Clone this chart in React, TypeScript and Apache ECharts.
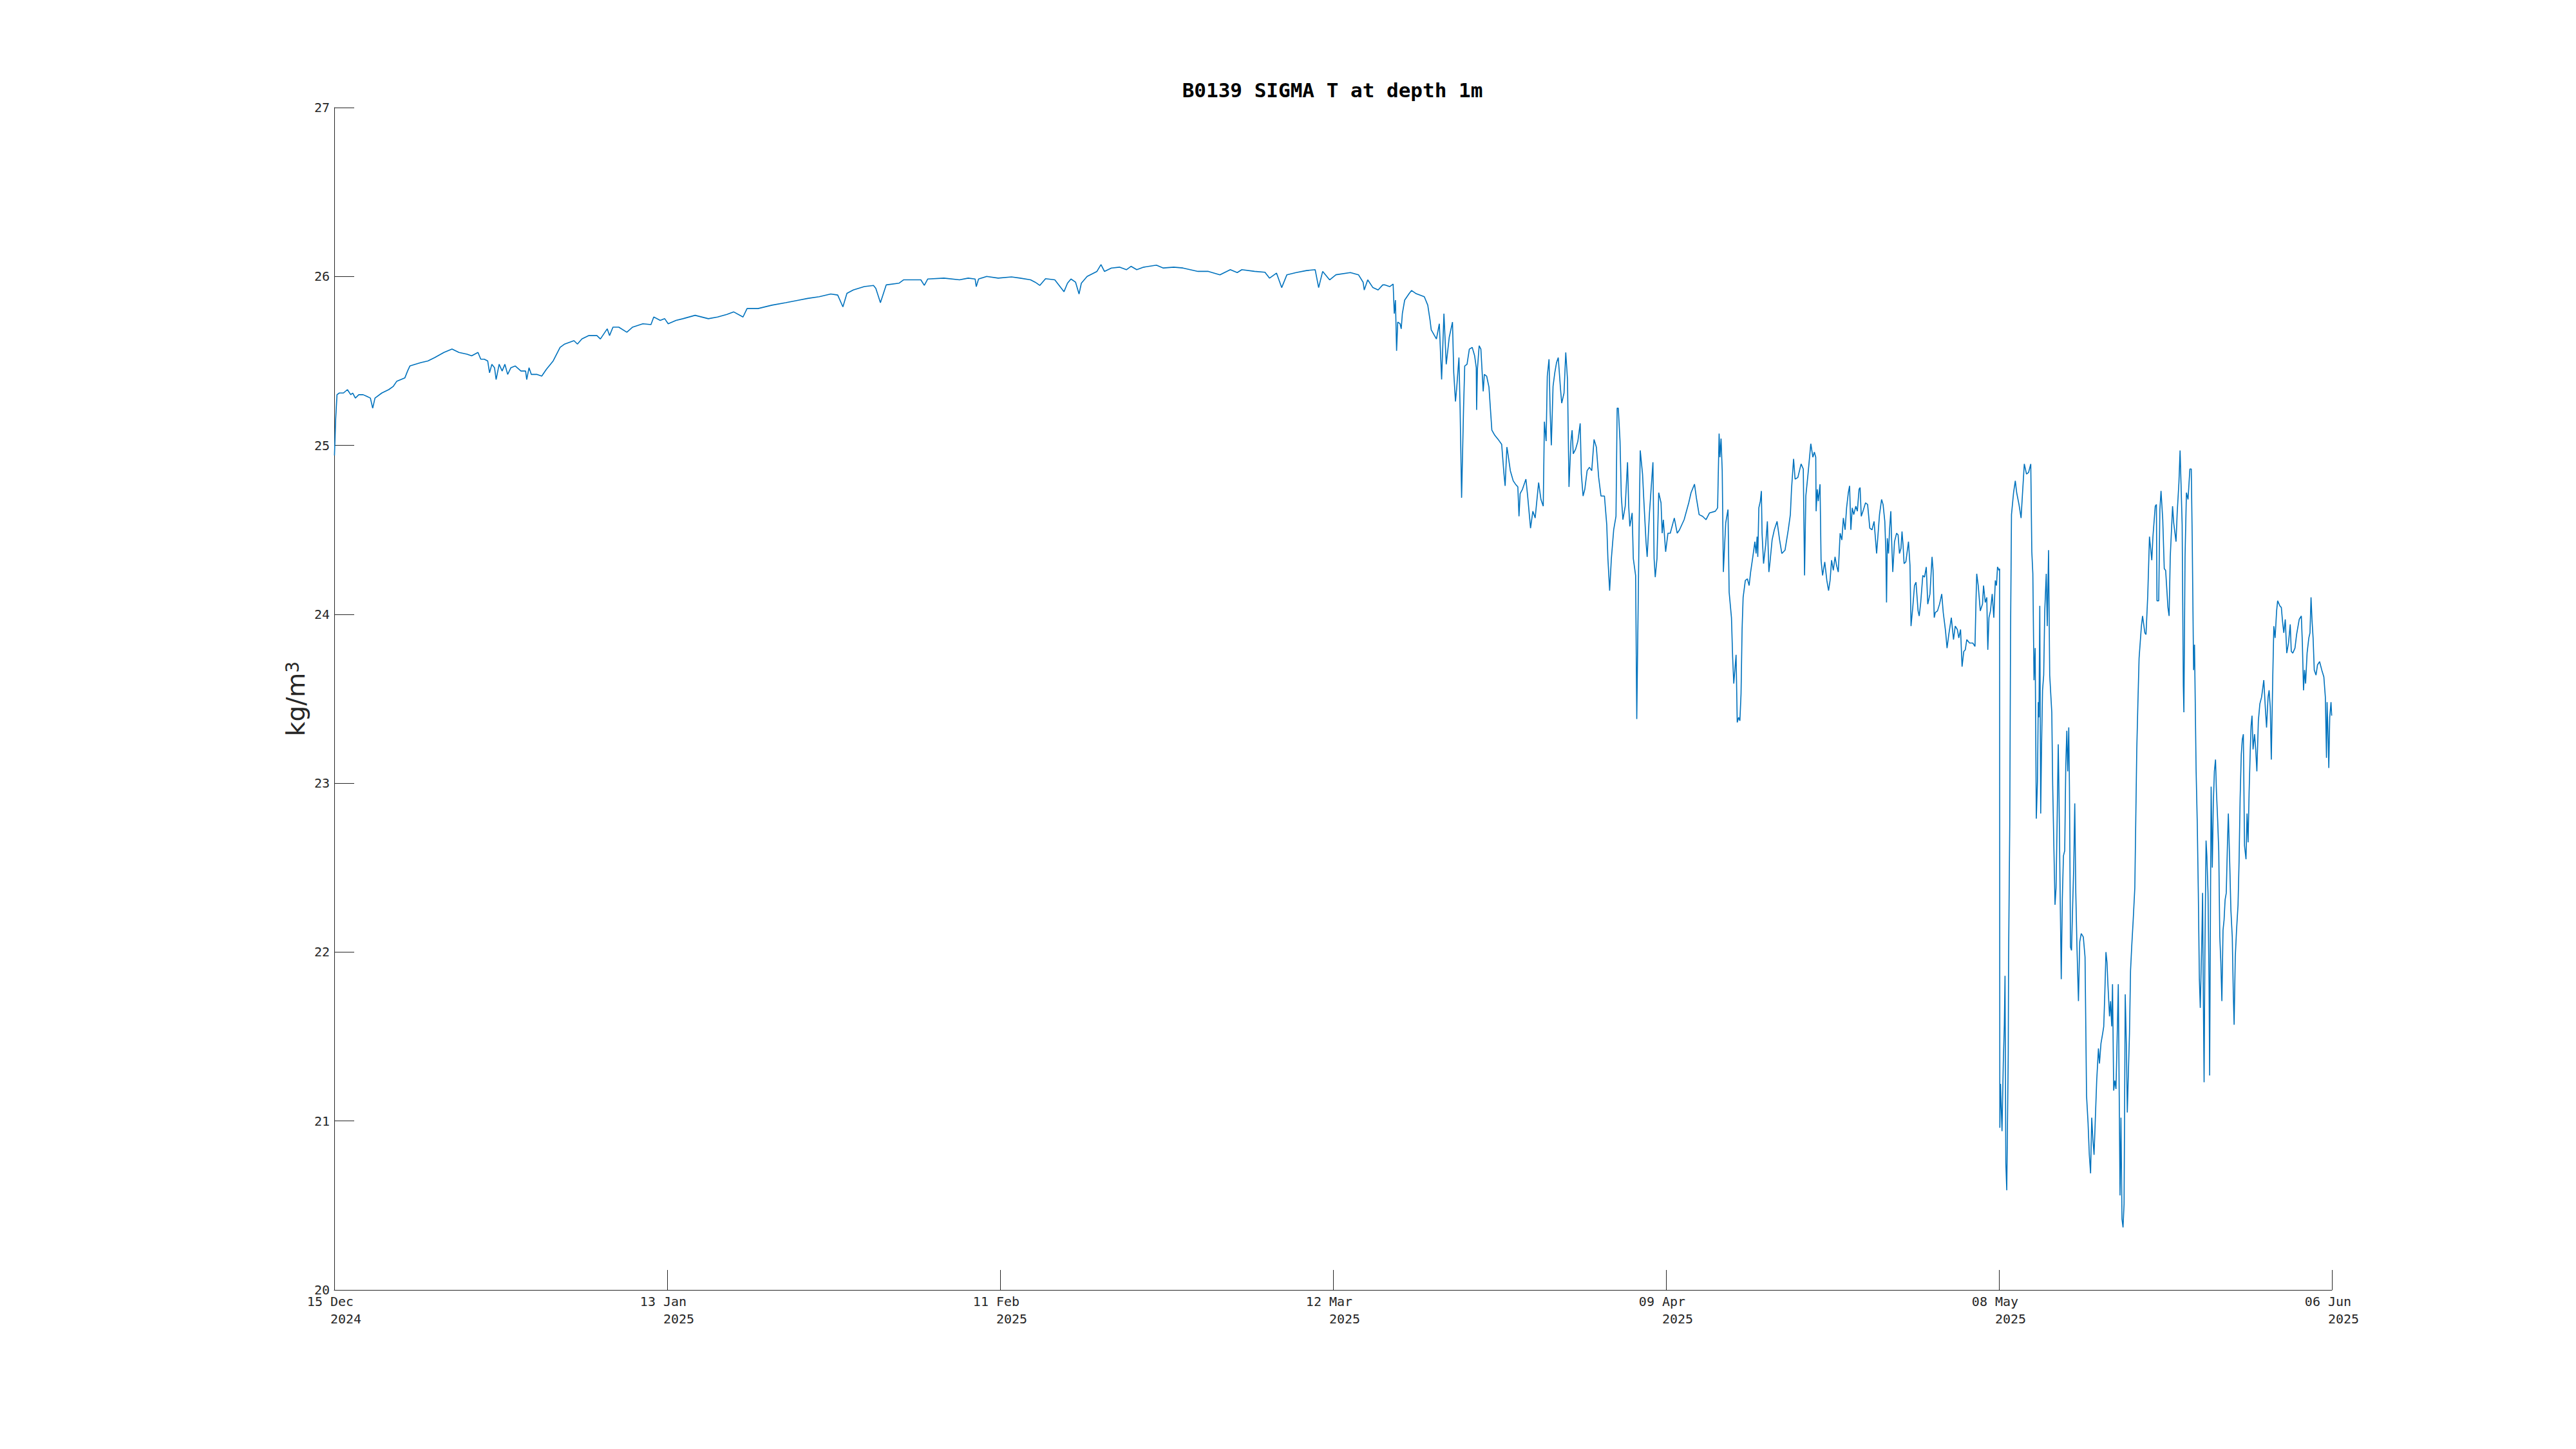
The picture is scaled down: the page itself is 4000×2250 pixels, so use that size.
import React, { useEffect, useRef } from "react";
import * as echarts from "echarts";

// x = days since 15 Dec 2024 00:00, y = sigma-T (kg/m^3)
const decData: [number, number][] = [
  [0.02, 24.94], [0.12, 25.15], [0.24, 25.3], [0.44, 25.31], [0.8, 25.31], [1.14, 25.33], [1.43, 25.3], [1.6, 25.31],
  [1.83, 25.28], [2.13, 25.3], [2.5, 25.3], [2.83, 25.29], [3.13, 25.28], [3.33, 25.22], [3.53, 25.28], [4.12, 25.31],
  [4.72, 25.33], [5.12, 25.35], [5.42, 25.38], [6.12, 25.4], [6.35, 25.44], [6.55, 25.47], [7.0, 25.48], [7.51, 25.49],
  [8.11, 25.5], [8.7, 25.52], [9.5, 25.55], [10.2, 25.57], [10.8, 25.55], [11.5, 25.54], [11.9, 25.53], [12.45, 25.55],
  [12.69, 25.51], [12.99, 25.51], [13.29, 25.5], [13.45, 25.43], [13.65, 25.48], [13.88, 25.46], [14.02, 25.39],
  [14.28, 25.48], [14.54, 25.44], [14.78, 25.48], [15.02, 25.42], [15.3, 25.46], [15.68, 25.47], [16.17, 25.44],
  [16.57, 25.44], [16.67, 25.39], [16.87, 25.46], [17.07, 25.42], [17.57, 25.42], [17.97, 25.41], [18.37, 25.45],
  [18.96, 25.5], [19.56, 25.58], [19.96, 25.6], [20.76, 25.62], [21.06, 25.6], [21.45, 25.63], [22.05, 25.65],
  [22.75, 25.65], [23.05, 25.63], [23.64, 25.69], [23.84, 25.65], [24.14, 25.7], [24.64, 25.7], [25.34, 25.67],
  [25.84, 25.7], [26.73, 25.72], [27.43, 25.715], [27.67, 25.76], [28.23, 25.74], [28.62, 25.75], [28.92, 25.72],
];

const janData: [number, number][] = [
  [29.6, 25.74], [30.2, 25.75], [31.25, 25.77], [32.4, 25.75], [33.2, 25.76], [34.0, 25.775], [34.6, 25.79],
  [35.4, 25.76], [35.75, 25.81], [36.7, 25.81], [37.9, 25.83], [39.1, 25.845], [40.25, 25.86], [41.0, 25.87],
  [42.0, 25.88], [43.0, 25.896], [43.6, 25.89], [44.05, 25.82], [44.4, 25.9], [44.95, 25.92], [45.9, 25.94],
  [46.7, 25.947], [46.9, 25.93], [47.3, 25.845], [47.8, 25.95], [48.9, 25.96], [49.3, 25.98], [50.8, 25.98],
  [51.1, 25.947], [51.4, 25.985], [52.8, 25.99], [54.15, 25.98], [54.9, 25.99], [55.5, 25.985], [55.6, 25.94],
  [55.8, 25.985], [56.5, 26.0], [57.5, 25.99], [58.65, 25.997], [59.4, 25.99], [60.3, 25.98],
];

const febMarData: [number, number][] = [
  [60.7, 25.966], [61.1, 25.947], [61.6, 25.987], [62.4, 25.98], [63.2, 25.91], [63.5, 25.96], [63.8, 25.985],
  [64.2, 25.966], [64.5, 25.896], [64.7, 25.96], [65.2, 26.0], [66.05, 26.03], [66.4, 26.07], [66.7, 26.03],
  [67.3, 26.05], [68.0, 26.055], [68.6, 26.04], [69.0, 26.06], [69.5, 26.04], [70.1, 26.055], [71.2, 26.067],
  [71.8, 26.05], [72.7, 26.055], [73.5, 26.05], [74.8, 26.03], [75.7, 26.03], [76.7, 26.01], [77.6, 26.04],
  [78.2, 26.023], [78.6, 26.04], [79.7, 26.03], [80.6, 26.025], [81.0, 25.99], [81.6, 26.02], [82.05, 25.934],
  [82.5, 26.01], [83.3, 26.023], [84.2, 26.035], [84.95, 26.04], [85.25, 25.934], [85.6, 26.03], [86.2, 25.98],
  [86.75, 26.01], [88.0, 26.023], [88.7, 26.01], [89.1, 25.966], [89.2, 25.92], [89.5, 25.98], [89.95, 25.934],
  [90.4, 25.92], [90.8, 25.95],
];

const marAprData: [number, number][] = [
  [91.0, 25.95], [91.4, 25.94], [91.7, 25.955], [91.8, 25.78], [91.9, 25.86], [92.0, 25.56], [92.1, 25.73],
  [92.3, 25.72], [92.4, 25.69], [92.5, 25.78], [92.7, 25.86], [93.1, 25.9], [93.3, 25.917], [93.7, 25.898],
  [94.4, 25.88], [94.7, 25.83], [94.9, 25.74], [95.0, 25.684], [95.45, 25.63], [95.7, 25.72], [95.9, 25.39],
  [96.1, 25.78], [96.3, 25.48], [96.56, 25.64], [96.84, 25.73], [96.95, 25.43], [97.1, 25.26], [97.2, 25.335],
  [97.4, 25.52], [97.5, 25.22], [97.63, 24.69], [97.8, 25.22], [97.9, 25.47], [98.1, 25.48], [98.3, 25.57],
  [98.55, 25.58], [98.76, 25.53], [98.9, 25.46], [98.93, 25.21], [99.0, 25.45], [99.15, 25.59], [99.3, 25.57],
  [99.5, 25.32], [99.6, 25.42], [99.8, 25.41], [100.0, 25.345], [100.25, 25.09], [100.5, 25.06], [100.8, 25.035],
  [101.1, 25.006], [101.3, 24.83], [101.4, 24.76], [101.55, 24.99], [101.6, 24.97], [101.85, 24.85], [102.1, 24.79],
  [102.3, 24.77], [102.5, 24.754], [102.6, 24.58], [102.7, 24.715], [102.9, 24.74], [103.2, 24.8], [103.35, 24.7],
  [103.6, 24.51], [103.8, 24.61], [104.0, 24.57], [104.3, 24.78], [104.5, 24.68], [104.7, 24.64], [104.8, 25.14],
  [104.95, 25.025], [105.05, 25.41], [105.2, 25.51], [105.3, 25.2], [105.4, 25.0], [105.55, 25.35], [105.7, 25.43],
  [105.85, 25.49], [106.0, 25.52], [106.2, 25.33], [106.3, 25.25], [106.5, 25.31], [106.65, 25.55], [106.8, 25.39],
  [106.93, 24.754], [107.1, 25.025], [107.2, 25.09], [107.3, 24.95], [107.5, 24.977], [107.7, 25.025], [107.9, 25.13],
  [108.0, 24.83], [108.15, 24.7], [108.3, 24.74], [108.5, 24.85], [108.7, 24.87], [108.9, 24.85], [109.1, 25.035],
  [109.3, 24.99], [109.5, 24.81], [109.7, 24.7], [110.0, 24.7], [110.2, 24.53], [110.3, 24.33], [110.45, 24.14],
  [110.6, 24.33], [110.8, 24.5], [111.0, 24.58], [111.1, 25.22], [111.2, 25.22], [111.35, 25.025], [111.46, 24.7],
  [111.6, 24.56], [111.8, 24.64], [112.0, 24.9], [112.1, 24.64], [112.2, 24.52], [112.4, 24.6], [112.5, 24.33],
  [112.7, 24.23], [112.8, 23.38], [113.0, 24.5], [113.1, 24.97], [113.3, 24.83], [113.4, 24.69], [113.6, 24.43],
  [113.7, 24.34], [113.9, 24.6], [114.06, 24.76], [114.2, 24.9], [114.3, 24.33], [114.4, 24.22], [114.55, 24.33],
  [114.7, 24.72], [114.9, 24.66], [115.0, 24.48], [115.1, 24.56], [115.3, 24.37], [115.5, 24.48], [115.7, 24.48],
  [116.05, 24.57], [116.3, 24.48], [116.5, 24.5], [116.9, 24.56], [117.3, 24.66], [117.5, 24.72], [117.8, 24.77],
  [117.96, 24.69], [118.2, 24.59], [118.5, 24.58], [118.8, 24.56], [119.1, 24.6], [119.6, 24.61], [119.8, 24.63],
  [119.93, 25.07], [120.0, 24.93], [120.1, 25.04], [120.2, 24.85], [120.3, 24.25], [120.5, 24.54], [120.7, 24.62],
  [120.8, 24.13], [121.0, 23.98], [121.1, 23.75], [121.2, 23.59], [121.4, 23.76], [121.5, 23.36], [121.62, 23.39],
];

const aprMayData: [number, number][] = [
  [121.73, 23.37], [121.83, 23.53], [121.92, 23.91], [122.01, 24.1], [122.2, 24.2], [122.38, 24.21], [122.53, 24.17],
  [122.66, 24.25], [122.85, 24.34], [123.03, 24.43], [123.13, 24.36], [123.22, 24.46], [123.28, 24.34], [123.37, 24.63],
  [123.5, 24.67], [123.59, 24.73], [123.65, 24.48], [123.78, 24.3], [123.96, 24.41], [124.11, 24.55], [124.24, 24.25],
  [124.34, 24.31], [124.52, 24.44], [124.71, 24.5], [124.95, 24.55], [125.17, 24.44], [125.36, 24.36], [125.64, 24.38],
  [125.92, 24.5], [126.1, 24.59], [126.2, 24.74], [126.38, 24.92], [126.51, 24.8], [126.75, 24.81], [127.03, 24.89],
  [127.22, 24.86], [127.33, 24.23], [127.44, 24.7], [127.63, 24.83], [127.87, 25.01], [128.05, 24.93], [128.18, 24.96],
  [128.3, 24.93], [128.33, 24.61], [128.43, 24.74], [128.52, 24.67], [128.67, 24.77], [128.76, 24.32], [128.89, 24.23],
  [129.08, 24.31], [129.26, 24.2], [129.41, 24.14], [129.54, 24.2], [129.67, 24.32], [129.82, 24.26], [129.97, 24.34],
  [130.1, 24.29], [130.25, 24.25], [130.41, 24.48], [130.56, 24.44], [130.69, 24.57], [130.84, 24.5], [130.97, 24.63],
  [131.12, 24.72], [131.23, 24.76], [131.34, 24.5], [131.46, 24.63], [131.59, 24.59], [131.77, 24.64], [131.9, 24.61],
  [132.05, 24.74], [132.14, 24.75], [132.24, 24.58], [132.39, 24.61], [132.61, 24.66], [132.79, 24.65], [132.98, 24.51],
  [133.17, 24.5], [133.35, 24.55], [133.57, 24.36], [133.82, 24.59], [134.0, 24.68], [134.13, 24.65], [134.28, 24.55],
  [134.37, 24.37], [134.43, 24.07], [134.5, 24.45], [134.6, 24.36], [134.69, 24.5], [134.8, 24.61], [134.88, 24.42],
  [134.97, 24.25], [135.12, 24.43], [135.3, 24.48], [135.43, 24.47], [135.55, 24.36], [135.68, 24.39], [135.77, 24.49],
  [135.86, 24.41], [135.95, 24.3], [136.1, 24.31], [136.33, 24.43], [136.46, 24.29], [136.55, 23.93], [136.7, 24.04],
  [136.85, 24.17], [136.98, 24.19], [137.16, 24.02], [137.26, 23.99], [137.39, 24.07], [137.57, 24.23], [137.72, 24.22],
  [137.87, 24.28], [138.0, 24.06], [138.19, 24.12], [138.37, 24.34], [138.46, 24.26], [138.56, 23.98], [138.65, 24.01],
  [138.84, 24.02], [139.02, 24.06], [139.21, 24.12], [139.34, 24.01], [139.45, 23.95], [139.54, 23.9], [139.67, 23.8],
  [139.82, 23.88], [140.04, 23.98], [140.23, 23.85], [140.38, 23.93], [140.56, 23.91], [140.69, 23.86], [140.84, 23.91],
  [140.97, 23.69], [141.12, 23.78], [141.25, 23.79], [141.38, 23.85], [141.62, 23.83], [141.9, 23.83], [142.09, 23.81],
  [142.18, 24.09], [142.24, 24.24], [142.37, 24.17], [142.55, 24.02], [142.74, 24.06], [142.83, 24.17], [142.98, 24.07],
  [143.11, 24.1], [143.2, 23.79], [143.3, 23.98], [143.43, 24.02], [143.58, 24.12], [143.72, 23.98], [143.85, 24.2],
  [143.95, 24.17], [144.04, 24.28], [144.17, 24.26], [144.22, 24.27],
];

const mayData: [number, number][] = [
  [144.24, 20.96], [144.3, 21.22], [144.43, 20.94], [144.54, 21.34], [144.63, 21.57], [144.69, 21.86], [144.76, 20.75],
  [144.84, 20.59], [144.87, 20.77], [144.97, 21.4], [145.0, 21.97], [145.1, 22.76], [145.17, 23.89], [145.25, 24.59],
  [145.43, 24.72], [145.58, 24.79], [145.7, 24.72], [145.9, 24.65], [146.08, 24.57], [146.2, 24.71], [146.36, 24.89],
  [146.55, 24.83], [146.73, 24.84], [146.92, 24.89], [147.01, 24.37], [147.1, 24.24], [147.2, 23.61], [147.3, 23.8],
  [147.4, 22.79], [147.5, 23.01], [147.57, 23.48], [147.63, 23.39], [147.7, 24.05], [147.78, 22.82], [147.85, 23.2],
  [147.94, 23.55], [148.04, 23.64], [148.13, 24.02], [148.26, 24.24], [148.35, 23.93], [148.46, 24.38], [148.56, 23.64],
  [148.74, 23.42], [148.82, 22.98], [148.91, 22.66], [149.02, 22.28], [149.11, 22.38], [149.2, 22.76], [149.3, 23.23],
  [149.37, 22.91], [149.47, 22.31], [149.56, 21.84], [149.65, 22.31], [149.75, 22.57], [149.86, 22.6], [149.95, 23.1],
  [150.04, 23.31], [150.12, 23.07], [150.21, 23.33], [150.27, 22.98], [150.36, 22.03], [150.45, 22.01], [150.55, 22.28],
  [150.64, 22.5], [150.73, 22.88], [150.82, 22.35], [150.92, 22.03], [151.05, 21.71], [151.16, 22.06], [151.29, 22.11],
  [151.47, 22.09], [151.62, 21.97], [151.75, 21.15], [151.88, 20.99], [151.99, 20.8], [152.1, 20.69], [152.2, 21.02],
  [152.3, 20.89], [152.4, 20.8], [152.5, 20.99], [152.63, 21.24], [152.78, 21.43], [152.87, 21.34], [153.0, 21.46],
  [153.15, 21.52], [153.24, 21.56], [153.33, 21.75], [153.43, 22.0], [153.52, 21.94], [153.6, 21.81], [153.74, 21.62],
  [153.83, 21.71], [153.93, 21.56], [154.0, 21.81], [154.1, 21.18], [154.2, 21.24], [154.3, 21.19], [154.4, 21.49],
  [154.5, 21.81], [154.58, 21.15], [154.65, 20.56], [154.73, 21.02], [154.82, 20.42], [154.91, 20.37], [155.0, 20.51],
  [155.1, 21.75], [155.2, 21.45], [155.28, 21.05], [155.38, 21.3], [155.47, 21.52], [155.56, 21.89], [155.66, 22.03],
  [155.79, 22.19], [155.93, 22.38], [156.1, 23.2], [156.2, 23.48], [156.3, 23.74], [156.5, 23.93], [156.6, 23.99],
  [156.8, 23.89], [156.9, 23.88], [157.05, 24.11], [157.2, 24.46], [157.4, 24.32], [157.5, 24.46], [157.7, 24.64],
  [157.8, 24.65], [157.85, 24.08], [158.0, 24.08], [158.1, 24.62], [158.2, 24.73], [158.35, 24.56], [158.48, 24.27],
  [158.6, 24.26], [158.8, 24.04], [158.9, 23.99], [159.0, 24.34], [159.2, 24.64], [159.3, 24.54], [159.5, 24.43],
];

const mayJunData: [number, number][] = [
  [159.6, 24.6], [159.75, 24.78], [159.85, 24.97], [159.93, 24.78], [160.03, 24.53], [160.13, 23.58], [160.18, 23.42],
  [160.28, 24.34], [160.4, 24.72], [160.54, 24.68], [160.7, 24.86], [160.82, 24.86], [160.9, 24.46], [161.02, 23.67],
  [161.1, 23.82], [161.24, 23.07], [161.34, 22.76], [161.43, 22.35], [161.52, 21.84], [161.6, 21.67], [161.75, 22.13],
  [161.8, 22.35], [161.87, 21.68], [161.93, 21.23], [162.0, 22.0], [162.1, 22.66], [162.17, 22.57], [162.27, 22.35],
  [162.36, 21.81], [162.41, 21.27], [162.49, 22.38], [162.54, 22.98], [162.64, 22.5], [162.73, 22.88], [162.82, 23.07],
  [162.92, 23.14], [163.0, 22.95], [163.1, 22.79], [163.2, 22.6], [163.29, 22.09], [163.38, 21.94], [163.47, 21.71],
  [163.57, 22.13], [163.66, 22.19], [163.75, 22.31], [163.85, 22.35], [163.96, 22.66], [164.03, 22.82], [164.16, 22.5],
  [164.25, 22.25], [164.37, 22.09], [164.46, 21.75], [164.53, 21.57], [164.63, 21.97], [164.74, 22.13], [164.87, 22.28],
  [164.96, 22.54], [165.05, 22.91], [165.15, 23.17], [165.24, 23.26], [165.33, 23.29], [165.43, 22.63], [165.56, 22.55],
  [165.65, 22.82], [165.74, 22.65], [165.83, 22.95], [165.93, 23.2], [166.0, 23.34], [166.08, 23.4], [166.17, 23.2],
  [166.3, 23.29], [166.4, 23.2], [166.5, 23.07], [166.63, 23.37], [166.76, 23.47], [166.91, 23.51], [167.1, 23.61],
  [167.23, 23.45], [167.34, 23.33], [167.47, 23.51], [167.56, 23.55], [167.66, 23.45], [167.75, 23.14], [167.88, 23.64],
  [167.97, 23.93], [168.08, 23.86], [168.21, 24.02], [168.3, 24.08], [168.49, 24.05], [168.62, 24.04], [168.72, 23.96],
  [168.83, 23.89], [168.96, 23.97], [169.09, 23.77], [169.24, 23.83], [169.39, 23.94], [169.48, 23.78], [169.61, 23.77],
  [169.8, 23.8], [169.94, 23.88], [170.17, 23.97], [170.35, 23.99], [170.44, 23.83], [170.54, 23.55], [170.63, 23.67],
  [170.72, 23.59], [170.85, 23.77], [171.0, 23.86], [171.1, 23.89], [171.19, 24.1], [171.28, 23.96], [171.37, 23.86],
  [171.47, 23.67], [171.62, 23.64], [171.75, 23.7], [171.93, 23.72], [172.12, 23.67], [172.3, 23.63], [172.43, 23.51],
  [172.53, 23.15], [172.58, 23.48], [172.68, 23.25], [172.73, 23.09], [172.81, 23.39], [172.92, 23.48], [172.98, 23.4],
];

// evenly spaced date ticks (days since 15 Dec 2024)
const tickDays = [0, 28.8333, 57.6667, 86.5, 115.3333, 144.1667, 173];
const tickDayMonth = ["15 Dec", "13 Jan", "11 Feb", "12 Mar", "09 Apr", "08 May", "06 Jun"];
const tickYears = ["2024", "2025", "2025", "2025", "2025", "2025", "2025"];
const yTicks = [20, 21, 22, 23, 24, 25, 26, 27];

const TITLE = "B0139 SIGMA T at depth 1m";
const AXIS_COLOR = "#262626";
const NB = "\u00A0";

export default function App() {
  const ref = useRef<HTMLDivElement>(null);

  useEffect(() => {
    if (!ref.current) return;
    const chart = echarts.init(ref.current, undefined, { renderer: "svg" });
    const series = [
      ...decData,
      ...janData,
      ...febMarData,
      ...marAprData,
      ...aprMayData,
      ...mayData,
      ...mayJunData,
    ];

    chart.setOption({
      animation: false,
      backgroundColor: "#ffffff",
      title: {
        text: TITLE,
        left: 2064,
        top: 119,
        textAlign: "center",
        textStyle: {
          fontFamily: "DejaVu Sans Mono",
          fontWeight: "bold",
          fontSize: 31,
          lineHeight: 31,
          color: "#000000",
        },
      },
      grid: { left: 519, right: 379, top: 167, bottom: 247, containLabel: false },
      xAxis: {
        type: "value",
        min: tickDays[0],
        max: tickDays[tickDays.length - 1],
        splitLine: { show: false },
        axisLine: { show: true, onZero: false, lineStyle: { color: AXIS_COLOR, width: 1 } },
        axisTick: {
          show: true,
          inside: true,
          length: 31,
          customValues: tickDays,
          lineStyle: { color: AXIS_COLOR, width: 1 },
        },
        axisLabel: {
          show: true,
          customValues: tickDays,
          showMinLabel: true,
          showMaxLabel: true,
          hideOverlap: false,
          margin: 4,
          fontFamily: "DejaVu Sans Mono",
          fontSize: 20,
          lineHeight: 27,
          color: AXIS_COLOR,
          formatter: (v: number) => {
            let idx = -1;
            for (let i = 0; i < tickDays.length; i++) {
              if (Math.abs(tickDays[i] - v) < 0.01) idx = i;
            }
            if (idx < 0) return "";
            return tickDayMonth[idx] + NB + "\n" + NB + NB + NB + tickYears[idx];
          },
        },
      },
      yAxis: {
        type: "value",
        min: yTicks[0],
        max: yTicks[yTicks.length - 1],
        interval: 1,
        splitLine: { show: false },
        axisLine: { show: true, onZero: false, lineStyle: { color: AXIS_COLOR, width: 1 } },
        axisTick: { show: true, inside: true, length: 31, lineStyle: { color: AXIS_COLOR, width: 1 } },
        axisLabel: {
          margin: 7,
          fontFamily: "DejaVu Sans Mono",
          fontSize: 20,
          color: AXIS_COLOR,
          showMinLabel: true,
          showMaxLabel: true,
        },
        name: "{m|kg/m}{s|3}",
        nameLocation: "middle",
        nameRotate: 90,
        nameGap: 40,
        nameMoveOverlap: false,
        nameTextStyle: {
          color: AXIS_COLOR,
          rich: {
            m: {
              fontFamily: "DejaVu Sans",
              fontSize: 39,
              lineHeight: 39,
              color: AXIS_COLOR,
              verticalAlign: "bottom",
            },
            s: {
              fontFamily: "DejaVu Sans",
              fontSize: 28,
              lineHeight: 28,
              color: AXIS_COLOR,
              verticalAlign: "top",
              padding: [0, 0, 26, 0],
            },
          },
        },
      },
      series: [
        {
          type: "line",
          data: series,
          showSymbol: false,
          symbol: "none",
          lineStyle: { color: "#0072BD", width: 1.6 },
          itemStyle: { color: "#0072BD" },
          clip: true,
        },
      ],
    });

    return () => chart.dispose();
  }, []);

  return (
    <div
      ref={ref}
      style={{ position: "absolute", left: 0, top: 0, width: 4000, height: 2250, background: "#fff" }}
    />
  );
}
